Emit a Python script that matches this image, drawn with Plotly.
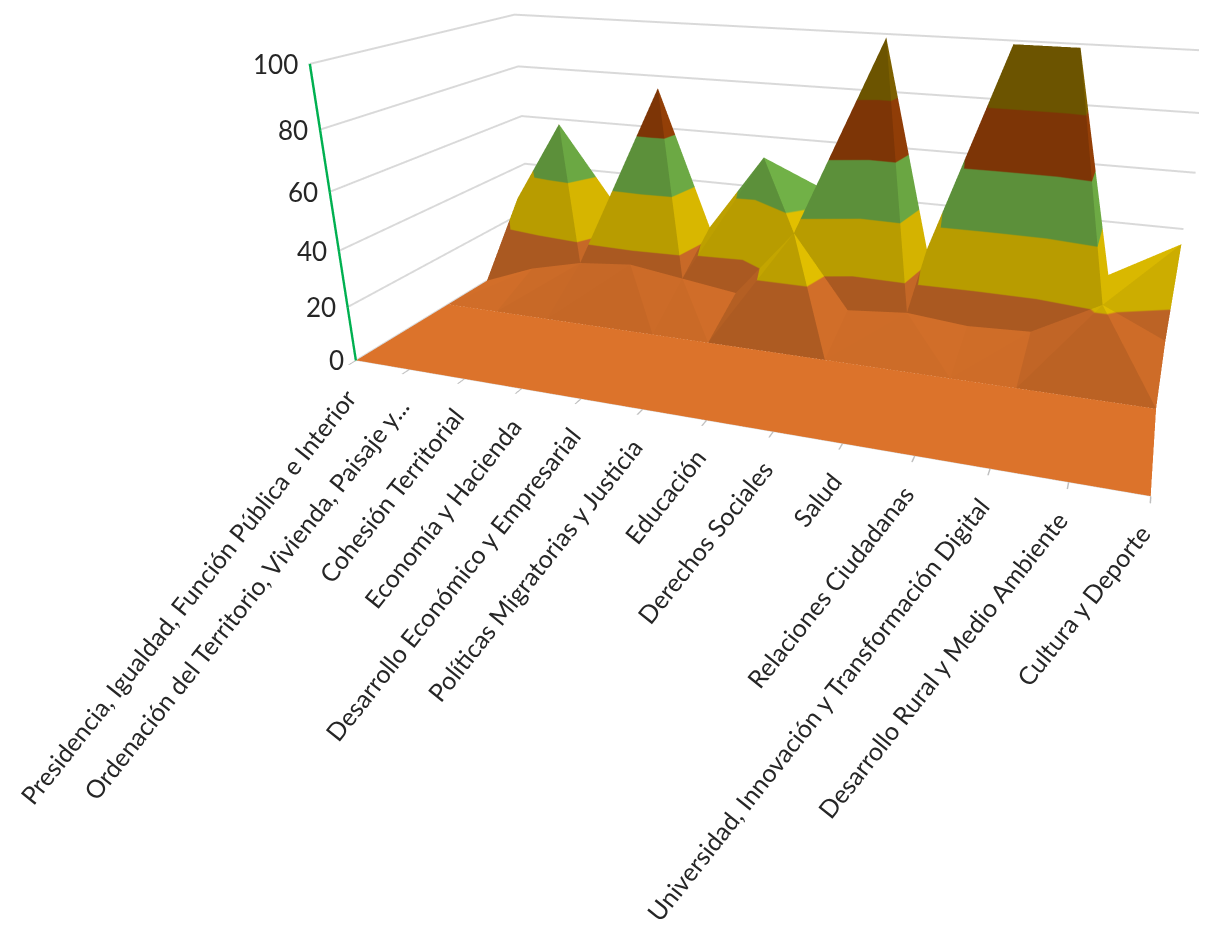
import plotly.graph_objects as go

categories = ["Presidencia, Igualdad, Función Pública e Interior",
              "Ordenación del Territorio, Vivienda, Paisaje y...",
              "Cohesión Territorial", "Economía y Hacienda",
              "Desarrollo Económico y Empresarial",
              "Políticas Migratorias y Justicia", "Educación", "Derechos Sociales",
              "Salud", "Relaciones Ciudadanas",
              "Universidad, Innovación y Transformación Digital",
              "Desarrollo Rural y Medio Ambiente", "Cultura y Deporte"]
# rows run from the front of the floor towards the back wall
row0 = [0, 0, 0, 0, 0, 0, 0, 0, 0, 0, 0, 0, 0]
row1 = [0, 0, 0, 0, 0, 0, 0, 0, 0, 0, 0, 0, 0]
row2 = [0, 0, 0, 0, 0, 0, 0, 0, 0, 0, 0, 0, 0]
row3 = [0, 8, 13, 15, 12, 9, 35, 8, 10, 8, 9, 22, 12]
row4 = [27, 60, 32, 77, 24, 54, 45, 100, 25, 100, 100, 23, 37]
rows = [row0, row1, row2, row3, row4]
z_ticks = [0, 20, 40, 60, 80, 100]
band_colors = ["#EC7C2E", "#FFD800", "#80C850", "#AE4A08", "#967400"]

n_rows, n_cols = len(rows), len(categories)
xs, ys, zs, ii, jj, kk = [], [], [], [], [], []
for r, row in enumerate(rows):
    for c, v in enumerate(row):
        xs.append(c); ys.append(r); zs.append(v)
for r in range(n_rows - 1):
    for c in range(n_cols - 1):
        a = r * n_cols + c
        b = a + 1
        d = a + n_cols
        e = d + 1
        # split each quad along the diagonal that touches its highest corner
        if max(zs[a], zs[e]) >= max(zs[b], zs[d]):
            ii += [a, a]; jj += [b, e]; kk += [e, d]
        else:
            ii += [a, b]; jj += [b, e]; kk += [d, d]

scale = []
for i, col in enumerate(band_colors):
    scale.append([i / len(band_colors), col])
    scale.append([(i + 1) / len(band_colors), col])

fig = go.Figure(go.Mesh3d(x=xs, y=ys, z=zs, i=ii, j=jj, k=kk, intensity=zs,
                          colorscale=scale, cmin=0, cmax=100, showscale=False,
                          flatshading=True, hoverinfo="skip",
                          lighting=dict(ambient=0.72, diffuse=0.28, specular=0, roughness=1, fresnel=0)))

annotations = [dict(x=c, y=0, z=0, text=t, textangle=-51.5, showarrow=False,
                    xanchor="right", yanchor="top", yshift=-20, xshift=8,
                    font=dict(family="Lato", size=25, color="#262626"))
               for c, t in enumerate(categories)]
annotations += [dict(x=0, y=0, z=v, text=str(v), showarrow=False, xanchor="right", xshift=-10,
                     font=dict(family="Lato", size=26, color="#262626")) for v in z_ticks]

fig.update_layout(
    width=1207, height=933, margin=dict(l=0, r=0, t=0, b=0), paper_bgcolor="white",
    font=dict(family="Lato", color="#262626"),
    scene=dict(
        domain=dict(x=[0.130, 1], y=[0, 1]),
        aspectmode="manual", aspectratio=dict(x=2.731, y=1.340, z=1.029),
        camera=dict(eye=dict(x=1.147, y=-3.767, z=1.109), center=dict(x=-0.151, y=-0.430, z=-0.870),
                    up=dict(x=0, y=0, z=1)),
        xaxis=dict(range=[0, n_cols - 1], tickvals=list(range(n_cols)), showticklabels=False, title="",
                   showgrid=False, ticks="outside", ticklen=12, tickcolor="#BFBFBF", tickwidth=3, showline=True,
                   linecolor="#D9D9D9", zeroline=False, showspikes=False, showbackground=False),
        yaxis=dict(range=[0, (n_rows - 1) / 0.933], showticklabels=False, title="", showgrid=False, ticks="",
                   showline=False, zeroline=False, showspikes=False, showbackground=False),
        zaxis=dict(range=[0, 100], tickvals=z_ticks, title="", showgrid=True, gridcolor="#D9D9D9", gridwidth=4,
                   showticklabels=False, showline=True, linecolor="#00B050",
                   linewidth=5, zeroline=False, showspikes=False, showbackground=False),
        annotations=annotations,
    ),
)
fig.write_html("out.html")
